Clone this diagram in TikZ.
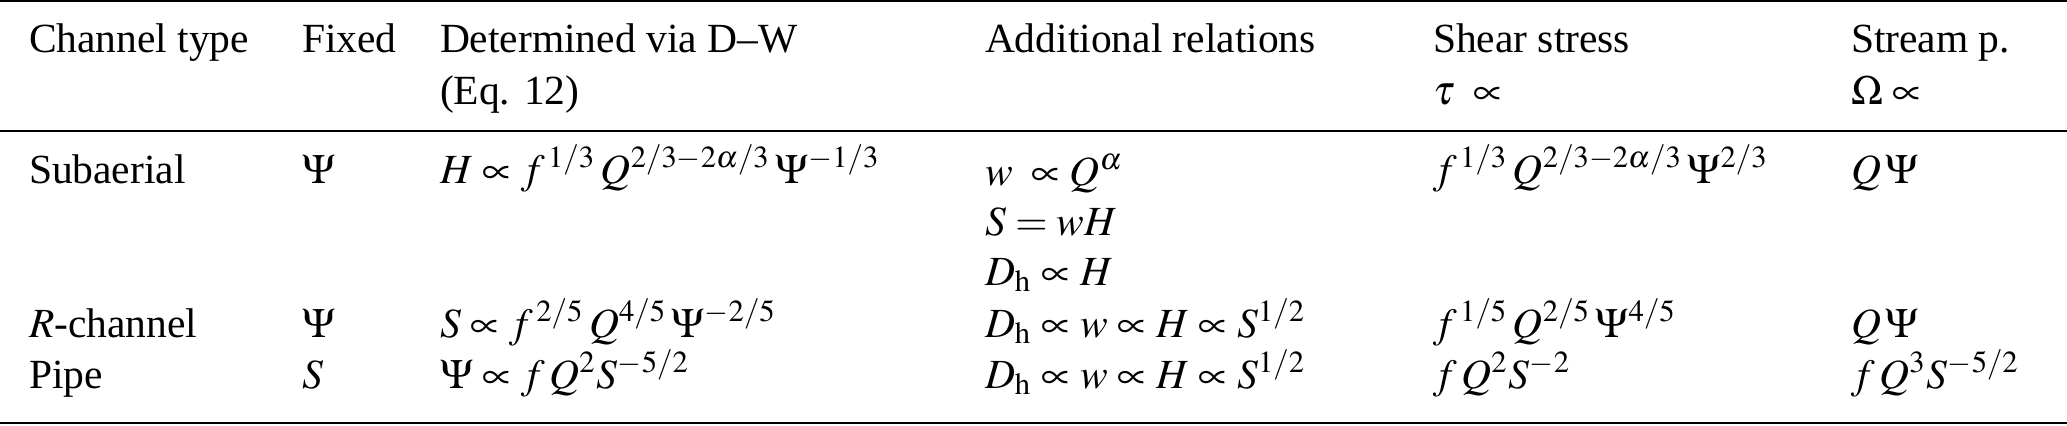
\documentclass[tikz,border=0pt]{standalone}
\usepackage{mathptmx}
\usepackage[no-math]{fontspec}
\setmainfont{Liberation Serif}
\begin{document}
\begin{tikzpicture}[x=0.24096pt,y=-0.24096pt,
  cell/.style={anchor=base west,inner sep=0pt,outer sep=0pt},
  rulefine/.style={line width=0.5pt,black}]
\useasboundingbox (0,0) rectangle (2067,425);
% rules
\draw[rulefine] (0,1.4) -- (2067,1.4);
\draw[rulefine] (0,131) -- (2067,131);
\draw[rulefine] (0,423) -- (2067,423);
% header
\node[cell] (h1) at (29,52) {Channel type};
\node[cell] (h2) at (302,52) {Fixed};
\node[cell] (h3) at (440,52) {Determined via D--W};
\node[cell] (h3b) at (440,104) {(Eq. 12)};
\node[cell] (h4) at (985,52) {Additional relations};
\node[cell] (h5) at (1433,52) {Shear stress};
\node[cell] (h5b) at (1433,104) {$\tau\;\propto$};
\node[cell] (h6) at (1851,52) {Stream p.};
\node[cell] (h6b) at (1851,104) {$\Omega\propto$};
% Subaerial
\node[cell] (a1) at (29,183) {Subaerial};
\node[cell] (a2) at (302,183) {$\Psi$};
\node[cell] (a3) at (440,183) {$H\propto f^{\,1/3}\,Q^{2/3-2\alpha/3}\,\Psi^{-1/3}$};
\node[cell] (a4) at (985,185) {$w\;\propto Q^{\alpha}$};
\node[cell] (a4b) at (985,235) {$S=wH$};
\node[cell] (a4c) at (985,285) {$D_\mathrm{h}\propto H$};
\node[cell] (a5) at (1433,183) {$f^{\,1/3}\,Q^{2/3-2\alpha/3}\,\Psi^{2/3}$};
\node[cell] (a6) at (1851,183) {$Q\,\Psi$};
% R-channel
\node[cell] (b1) at (29,337) {$R$-channel};
\node[cell] (b2) at (302,337) {$\Psi$};
\node[cell] (b3) at (440,337) {$S\propto f^{\,2/5}\,Q^{4/5}\,\Psi^{-2/5}$};
\node[cell] (b4) at (985,337) {$D_\mathrm{h}\propto w\propto H\propto S^{1/2}$};
\node[cell] (b5) at (1433,337) {$f^{\,1/5}\,Q^{2/5}\,\Psi^{4/5}$};
\node[cell] (b6) at (1851,337) {$Q\,\Psi$};
% Pipe
\node[cell] (c1) at (29,388) {Pipe};
\node[cell] (c2) at (302,388) {$S$};
\node[cell] (c3) at (440,388) {$\Psi\propto f\,Q^{2}S^{-5/2}$};
\node[cell] (c4) at (985,388) {$D_\mathrm{h}\propto w\propto H\propto S^{1/2}$};
\node[cell] (c5) at (1433,388) {$f\,Q^{2}S^{-2}$};
\node[cell] (c6) at (1851,388) {$f\,Q^{3}S^{-5/2}$};
\end{tikzpicture}
\end{document}
